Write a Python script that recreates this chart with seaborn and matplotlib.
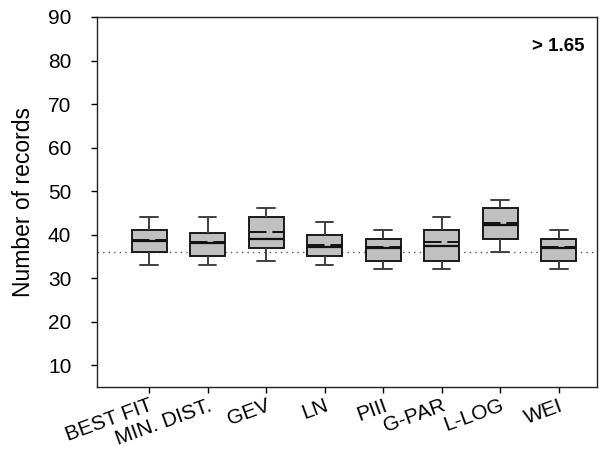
import matplotlib
matplotlib.use("Agg")
import matplotlib.pyplot as plt
import seaborn as sns
import pandas as pd
import numpy as np

categories = ["BEST FIT", "MIN. DIST.", "GEV", "LN", "PIII", "G-PAR", "L-LOG", "WEI"]
whisker_low = [33, 33, 34, 33, 32, 32, 36, 32]
q1 = [36, 35, 37, 35, 34, 34, 39, 34]
median = [38.5, 38.1, 39, 37.2, 37, 37.4, 42.1, 37]
q3 = [41, 40.3, 44, 40, 39, 41, 46, 39]
whisker_high = [44, 44, 46, 43, 41, 44, 48, 41]
means = [38.8, 38.3, 40.6, 37.6, 37.2, 38.4, 42.6, 37.2]
reference_level = 36
annotation = "> 1.65"

rows = []
for c, a, b, m, d, e in zip(categories, whisker_low, q1, median, q3, whisker_high):
    for v in (a, b, m, d, e):
        rows.append({"method": c, "records": v})
df = pd.DataFrame(rows)

sns.set_theme(style="ticks")
plt.rcParams["font.family"] = ["Liberation Sans", "DejaVu Sans"]
plt.rcParams["text.color"] = "black"
plt.rcParams["axes.labelcolor"] = "black"
plt.rcParams["xtick.color"] = "black"
plt.rcParams["ytick.color"] = "black"
plt.rcParams["xtick.labelcolor"] = "black"
plt.rcParams["ytick.labelcolor"] = "black"

fig = plt.figure(figsize=(6.14, 4.59), dpi=100)
ax = fig.add_axes([0.158, 0.157, 0.814, 0.806])

sns.boxplot(data=df, x="method", y="records", order=categories, ax=ax,
            whis=(0, 100), width=0.6, color="#c0c0c0", linecolor="black",
            linewidth=1.4, showfliers=False, saturation=1,
            boxprops=dict(facecolor="#c0c0c0", edgecolor="#1a1a1a"),
            whiskerprops=dict(color="#404040", linewidth=1.4),
            capprops=dict(color="#404040", linewidth=1.4),
            medianprops=dict(color="#111111", linewidth=1.6))

xs = np.arange(len(categories))
ax.hlines(means, xs - 0.3, xs + 0.3, colors="#111111", linewidth=1.4,
          linestyles=(0, (9, 3)), zorder=5)

ax.axhline(reference_level, color="#555555", linestyle=(0, (1, 3)), linewidth=1.0, zorder=0.5)

ax.set_ylim(5, 90)
ax.set_xlim(-0.89, 7.65)
ax.set_yticks([10, 20, 30, 40, 50, 60, 70, 80, 90])
ax.set_xlabel("")
ax.set_ylabel("Number of records", fontsize=16.5, labelpad=9, color="black")
ax.tick_params(axis="y", labelsize=15, length=4.5, width=1, direction="out", pad=14,
               colors="black")
ax.tick_params(axis="x", labelsize=15, length=4.5, width=1, direction="out", pad=2,
               colors="black")
for lab in ax.get_xticklabels():
    lab.set_rotation(20)
    lab.set_ha("right")
    lab.set_rotation_mode("anchor")
for s in ax.spines.values():
    s.set_visible(True)
    s.set_linewidth(1.0)
    s.set_color("#222222")

ax.text(0.976, 0.92, annotation, transform=ax.transAxes, ha="right", va="center",
        fontsize=13.5, fontweight="bold", color="black")

fig.savefig("out.png", dpi=100)
